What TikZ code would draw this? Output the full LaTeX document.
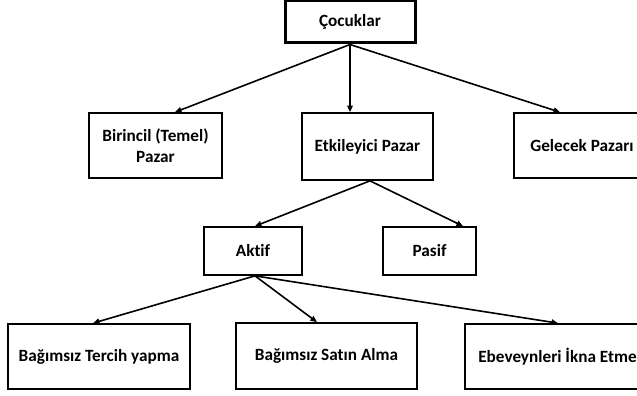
\documentclass[tikz,border=0pt]{standalone}
\usepackage{fontspec}
\setmainfont{Carlito}[Ligatures=NoCommon]
\usetikzlibrary{arrows.meta}
\begin{document}
\begin{tikzpicture}[x=1pt,y=-1pt,
  box/.style={draw, line width=1.7pt, font=\bfseries\fontsize{17.2}{20.5}\selectfont, align=center, inner sep=0pt},
  arr/.style={line width=1.6pt, -{Triangle[length=6.5pt,width=5.5pt]}}]
\useasboundingbox (0,0) rectangle (637,396);
\clip (0,0) rectangle (637,396);
\node[box, line width=3pt, minimum width=130pt, minimum height=42pt] (coc) at (350,22) {Çocuklar};
\node[box, minimum width=133pt, minimum height=65pt] (bir) at (155.5,145.5) {Birincil (Temel)\\Pazar};
\node[box, minimum width=131pt, minimum height=67pt] (etk) at (367.5,146.5) {Etkileyici Pazar};
\node[box, minimum width=136pt, minimum height=65pt] (gel) at (582,145.5) {Gelecek Pazarı};
\node[box, minimum width=98pt, minimum height=48pt] (akt) at (253,251) {Aktif};
\node[box, minimum width=93pt, minimum height=48pt] (pas) at (429.5,251) {Pasif};
\node[box, minimum width=182pt, minimum height=65pt] (bt) at (99,356.5) {Bağımsız Tercih yapma};
\node[box, minimum width=181pt, minimum height=66pt] (bs) at (326.5,356) {Bağımsız Satın Alma};
\node[box, minimum width=185pt, minimum height=65pt] (eb) at (557.5,356.5) {Ebeveynleri İkna Etme};
\draw[arr] (coc.south) -- ([xshift=19.5pt]bir.north);
\draw[arr] (coc.south) -- ([xshift=-17.5pt]etk.north);
\draw[arr] (coc.south) -- ([xshift=-22pt]gel.north);
\draw[arr] ([xshift=2.5pt]etk.south) -- ([xshift=2pt]akt.north);
\draw[arr] ([xshift=2.5pt]etk.south) -- ([xshift=33.5pt]pas.north);
\draw[arr] ([xshift=2pt]akt.south) -- ([xshift=-6pt]bt.north);
\draw[arr] ([xshift=2pt]akt.south) -- ([xshift=-9.5pt]bs.north);
\draw[arr] ([xshift=2pt]akt.south) -- ([xshift=0.5pt]eb.north);
\end{tikzpicture}
\end{document}
